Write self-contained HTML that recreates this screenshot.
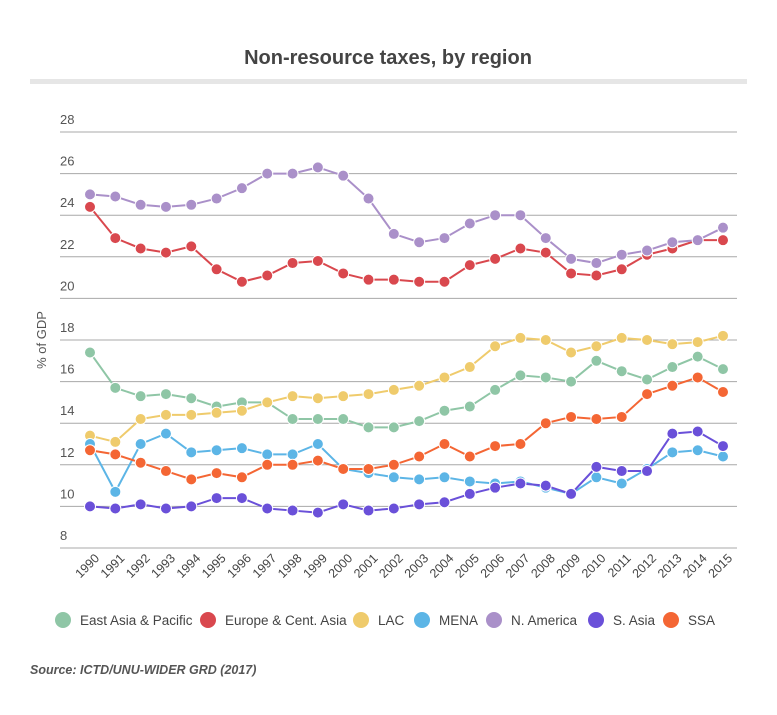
<!DOCTYPE html>
<html><head><meta charset="utf-8"><style>
body{margin:0;background:#fff;font-family:"Liberation Sans",sans-serif;}
</style></head><body>
<svg id="chart" width="777" height="710" xmlns="http://www.w3.org/2000/svg">
<text x="388" y="64" text-anchor="middle" font-size="20" font-weight="bold" fill="#444">Non-resource taxes, by region</text>
<rect x="30" y="79" width="717" height="5" fill="#e6e6e6"/>
<text transform="translate(46,340) rotate(-90)" text-anchor="middle" font-size="13" fill="#555">% of GDP</text>
<g id="grid"></g><g id="xlabels"></g><g id="series"></g>
<g id="legend"></g>
<text x="30" y="674" font-size="12.5" font-style="italic" font-weight="bold" fill="#555">Source: ICTD/UNU-WIDER GRD (2017)</text>
</svg>
<script>
const years=[1990,1991,1992,1993,1994,1995,1996,1997,1998,1999,2000,2001,2002,2003,2004,2005,2006,2007,2008,2009,2010,2011,2012,2013,2014,2015];
const yTicks=[8,10,12,14,16,18,20,22,24,26,28];
const seriesNames=["East Asia & Pacific","Europe & Cent. Asia","LAC","MENA","N. America","S. Asia","SSA"];
const eastAsia=[17.4,15.7,15.3,15.4,15.2,14.8,15.0,15.0,14.2,14.2,14.2,13.8,13.8,14.1,14.6,14.8,15.6,16.3,16.2,16.0,17.0,16.5,16.1,16.7,17.2,16.6];
const europe=[24.4,22.9,22.4,22.2,22.5,21.4,20.8,21.1,21.7,21.8,21.2,20.9,20.9,20.8,20.8,21.6,21.9,22.4,22.2,21.2,21.1,21.4,22.1,22.4,22.8,22.8];
const lac=[13.4,13.1,14.2,14.4,14.4,14.5,14.6,15.0,15.3,15.2,15.3,15.4,15.6,15.8,16.2,16.7,17.7,18.1,18.0,17.4,17.7,18.1,18.0,17.8,17.9,18.2];
const mena=[13.0,10.7,13.0,13.5,12.6,12.7,12.8,12.5,12.5,13.0,11.8,11.6,11.4,11.3,11.4,11.2,11.1,11.2,10.9,10.6,11.4,11.1,11.8,12.6,12.7,12.4];
const nAmerica=[25.0,24.9,24.5,24.4,24.5,24.8,25.3,26.0,26.0,26.3,25.9,24.8,23.1,22.7,22.9,23.6,24.0,24.0,22.9,21.9,21.7,22.1,22.3,22.7,22.8,23.4];
const sAsia=[10.0,9.9,10.1,9.9,10.0,10.4,10.4,9.9,9.8,9.7,10.1,9.8,9.9,10.1,10.2,10.6,10.9,11.1,11.0,10.6,11.9,11.7,11.7,13.5,13.6,12.9];
const ssa=[12.7,12.5,12.1,11.7,11.3,11.6,11.4,12.0,12.0,12.2,11.8,11.8,12.0,12.4,13.0,12.4,12.9,13.0,14.0,14.3,14.2,14.3,15.4,15.8,16.2,15.5];
const allSeries=[eastAsia,europe,lac,mena,nAmerica,sAsia,ssa];
const colors=["#8fc6a6","#d9484e","#efcb6c","#5cb5e6","#aa90c9","#6a50d9","#f46634"];
const keys=["east-asia","europe","lac","mena","n-america","s-asia","ssa"];
const legendX=[63,208,361,422,494,596,671];
const NS="http://www.w3.org/2000/svg";
const X0=90,X1=723,Y0=548,Y1=132,YMIN=8,YMAX=28;
function xs(i){return X0+(X1-X0)*i/(years.length-1);}
function ys(v){return Y0-(v-YMIN)/(YMAX-YMIN)*(Y0-Y1);}
function mk(t,a,p){const e=document.createElementNS(NS,t);for(const k in a)e.setAttribute(k,a[k]);p.appendChild(e);return e;}
const grid=document.getElementById('grid');
yTicks.forEach(v=>{
 const l=mk('line',{x1:60,x2:737,y1:ys(v),y2:ys(v),stroke:'#a8a8a8','stroke-width':1},grid);
 
 
 const t=mk('text',{x:60,y:ys(v)-8,'font-size':13,fill:'#555'},grid);
 t.textContent=v;
 
 
});
const xl=document.getElementById('xlabels');
years.forEach((y,i)=>{
 const x=xs(i)+10;
 const t=mk('text',{x:x,y:559,'font-size':12.5,fill:'#444','text-anchor':'end',transform:`rotate(-45 ${x} 559)`},xl);
 t.textContent=y;
 
 
});
const sg=document.getElementById('series');
allSeries.forEach((d,s)=>{
 const g=mk('g',{},sg);
 
 
 const p=mk('polyline',{points:d.map((v,i)=>xs(i)+','+ys(v)).join(' '),fill:'none',stroke:colors[s],'stroke-width':2},g);
 
 
 d.forEach((v,i)=>{
  const c=mk('circle',{cx:xs(i),cy:ys(v),r:5.5,fill:colors[s],stroke:'#fff','stroke-width':1},g);
  
  
 });
});
const lg=document.getElementById('legend');
seriesNames.forEach((n,s)=>{
 const g=mk('g',{},lg);
 
 
 mk('circle',{cx:legendX[s],cy:620,r:8,fill:colors[s]},g);
 const t=mk('text',{x:legendX[s]+17,y:625,'font-size':13.5,fill:'#444'},g);
 t.textContent=n;
});
</script>
</body></html>
